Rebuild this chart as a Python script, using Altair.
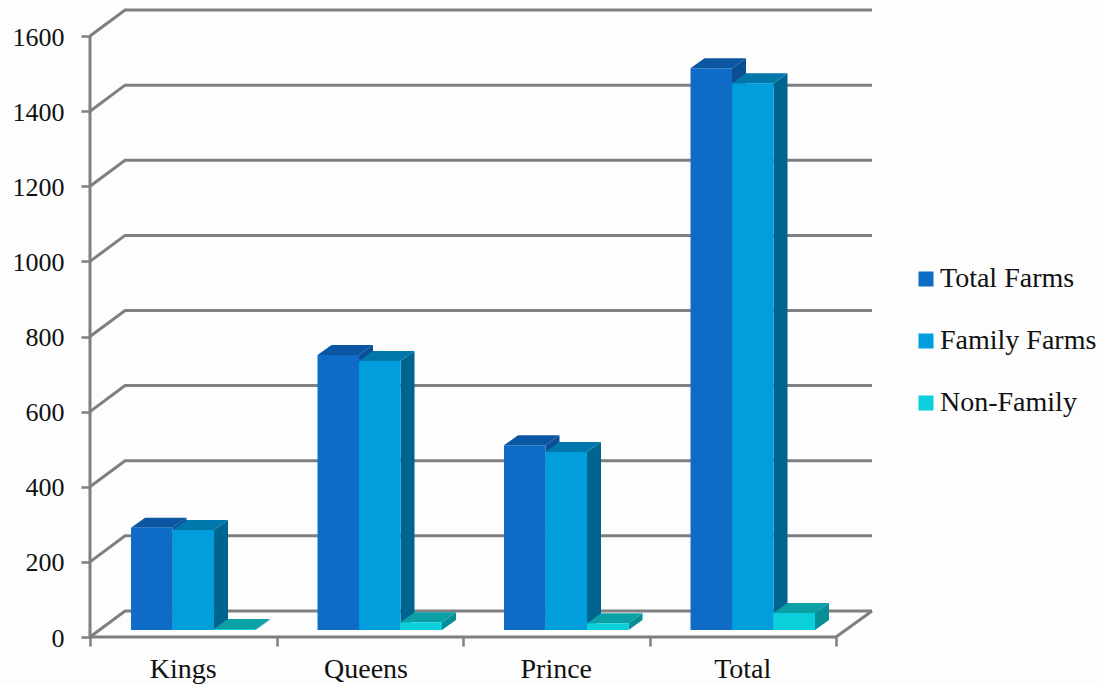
import altair as alt
import pandas as pd

categories = ["Kings", "Queens", "Prince", "Total"]
category_label_x = [0.5, 1.48, 2.5, 3.5]
series_names = ["Total Farms", "Family Farms", "Non-Family"]
total_farms = [272, 732, 492, 1496]
family_farms = [266, 716, 474, 1456]
non_family = [3, 21, 18, 45]
grid_values = [0, 200, 400, 600, 800, 1000, 1200, 1400, 1600]

front_colors = ["#0e6bc6", "#009edc", "#0bd0dc"]
top_colors = ["#0b56a3", "#0277ac", "#0aa0a6"]
side_colors = ["#0a4f96", "#006490", "#088e96"]
line_color = "#7f7f7f"
text_color = "#111111"
font = "Liberation Serif"

# The depth illusion is expressed in data units of the two scales.
X_MAX = 782 / 186.5
Y_MAX = 1696
WALL_DX, WALL_DY = 0.188, 69.3
BAR_DX, BAR_DY = 0.075, 26.6
BAR_W = 0.2225
BAR_START = 0.22
BAR_BASE = 18.6

x_scale = alt.Scale(domain=[0, X_MAX], nice=False, zero=False)
y_scale = alt.Scale(domain=[0, Y_MAX], nice=False, zero=False)

# Every layer carries the same axis definition so that they merge into one.
x_axis = alt.Axis(
    values=[0, 1, 2, 3, 4], labels=False, domain=False, grid=False, title=None,
    tickColor=line_color, tickWidth=2.5, tickSize=9,
)
y_axis = alt.Axis(
    values=grid_values, domain=False, grid=False, title=None, format="d",
    tickColor=line_color, tickWidth=2.5, tickSize=9, labelPadding=17, labelOffset=1,
    labelFont=font, labelFontSize=26, labelColor=text_color, labelBaseline="middle",
)


def X(field="x"):
    return alt.X(f"{field}:Q", scale=x_scale, axis=x_axis)


def Y(field="y"):
    return alt.Y(f"{field}:Q", scale=y_scale, axis=y_axis)


# Walls and floor: each grid line runs from the front edge back, then along the wall.
line_rows = []
for v in grid_values:
    line_rows += [
        {"g": f"g{v}", "s": 0, "x": 0, "y": v},
        {"g": f"g{v}", "s": 1, "x": WALL_DX, "y": v + WALL_DY},
        {"g": f"g{v}", "s": 2, "x": X_MAX, "y": v + WALL_DY},
    ]
line_rows += [
    {"g": "wall", "s": 0, "x": 0, "y": 0},
    {"g": "wall", "s": 1, "x": 0, "y": 1600},
    {"g": "front", "s": 0, "x": 0, "y": 0},
    {"g": "front", "s": 1, "x": 4, "y": 0},
    {"g": "edge", "s": 0, "x": 4, "y": 0},
    {"g": "edge", "s": 1, "x": X_MAX, "y": WALL_DY},
]

lines = alt.Chart(pd.DataFrame(line_rows)).mark_line(
    color=line_color, strokeWidth=3, strokeJoin="miter"
).encode(X(), Y(), detail="g:N", order="s:Q")

values_by_series = [total_farms, family_farms, non_family]
legend = alt.Legend(
    title=None, orient="none", legendX=822, legendY=265, symbolType="square",
    symbolSize=225, symbolStrokeWidth=0, symbolOpacity=1, labelFont=font, labelFontSize=28,
    labelColor=text_color, labelOffset=0, rowPadding=34, labelLimit=220,
)
color = alt.Color(
    "series:N", legend=legend,
    scale=alt.Scale(domain=series_names, range=front_colors),
)

layers = [lines]
# Bars are painted left to right so each one covers the side of its neighbour.
for k, (name, values) in enumerate(zip(series_names, values_by_series)):
    front, top, side = [], [], []
    for i, (cat, v) in enumerate(zip(categories, values)):
        left = i + BAR_START + k * BAR_W
        right = left + BAR_W
        low = BAR_BASE
        high = BAR_BASE + v
        front.append({"series": name, "cat": cat, "x": left, "x2": right, "y": low, "y2": high})
        top += [
            {"cat": cat, "x": left, "x2": right, "y": high},
            {"cat": cat, "x": left + BAR_DX, "x2": right + BAR_DX, "y": high + BAR_DY},
        ]
        side += [
            {"cat": cat, "x": right, "y": low, "y2": high},
            {"cat": cat, "x": right + BAR_DX, "y": low + BAR_DY, "y2": high + BAR_DY},
        ]
    layers.append(
        alt.Chart(pd.DataFrame(side)).mark_area(color=side_colors[k], orient="vertical").encode(
            X(), Y(), alt.Y2("y2:Q"), detail="cat:N"
        )
    )
    layers.append(
        alt.Chart(pd.DataFrame(top)).mark_area(color=top_colors[k], orient="horizontal").encode(
            X(), alt.X2("x2:Q"), Y(), detail="cat:N"
        )
    )
    layers.append(
        alt.Chart(pd.DataFrame(front)).mark_rect().encode(
            X(), alt.X2("x2:Q"), Y(), alt.Y2("y2:Q"), color=color
        )
    )

cat_labels = pd.DataFrame({
    "cat": categories,
    "x": category_label_x,
    "y": [0] * len(categories),
})
layers.append(
    alt.Chart(cat_labels).mark_text(
        font=font, fontSize=28, color=text_color, baseline="middle", dy=33
    ).encode(X(), Y(), text="cat:N")
)

chart = alt.layer(*layers).properties(
    width=782,
    height=637,
    padding={"left": 90, "top": 0, "right": 225, "bottom": 48},
    autosize="none",
    background="#fdfdfd",
).configure_view(stroke=None)

chart.save("out.html", embed_options={"renderer": "svg", "actions": False})
